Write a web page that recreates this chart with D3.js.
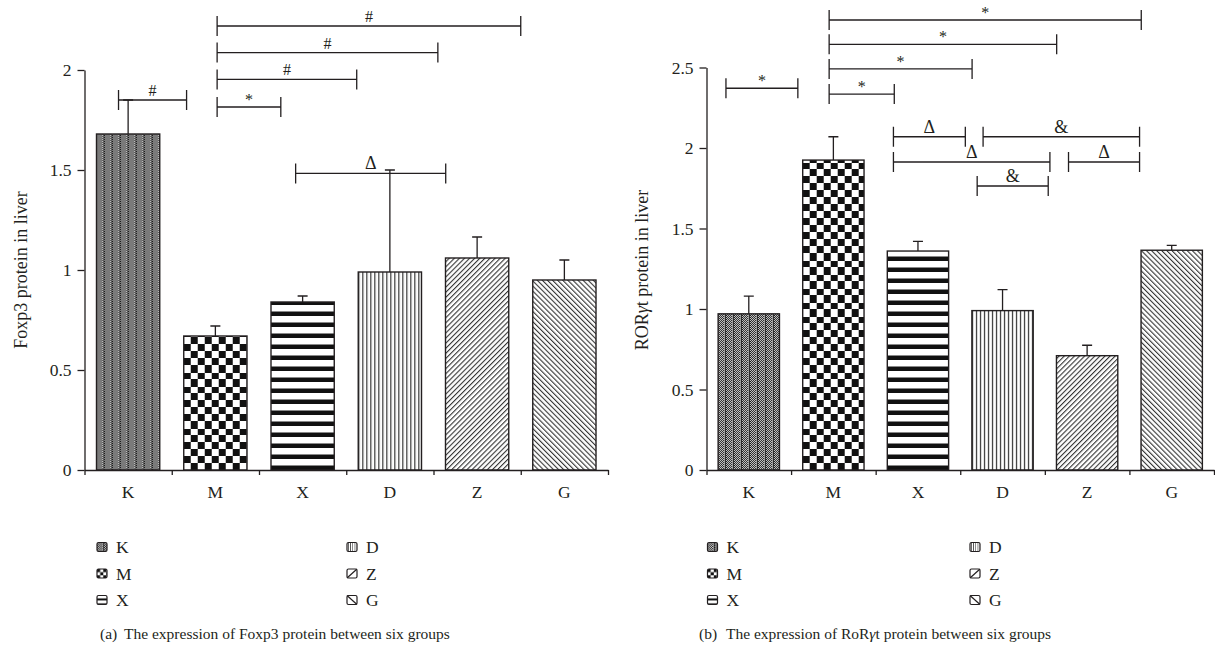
<!DOCTYPE html>
<html>
<head>
<meta charset="utf-8">
<script src="https://cdn.jsdelivr.net/npm/d3@7"></script>
<style>
body { margin: 0; background: #fff; }
#fig { opacity: 0.999; }
svg text { font-family: "Liberation Serif", "DejaVu Serif", serif; fill: #231f20; }
</style>
</head>
<body>
<svg id="fig" width="1215" height="653"></svg>
<script>
/*global d3 */
"use strict";

////////////////////////////////////////
// data
////////////////////////////////////////

var groups = ["K", "M", "X", "D", "Z", "G"],
    foxp3Mean = [1.68, 0.67, 0.84, 0.99, 1.06, 0.95],
    foxp3Err = [0.17, 0.05, 0.03, 0.51, 0.105, 0.10],
    foxp3Ticks = [0, 0.5, 1, 1.5, 2],
    rorMean = [0.97, 1.925, 1.36, 0.99, 0.71, 1.365],
    rorErr = [0.11, 0.145, 0.06, 0.13, 0.065, 0.03],
    rorTicks = [0, 0.5, 1, 1.5, 2, 2.5],
    // significance brackets: [label, from, to, level] (from/to in group units)
    foxp3Sig = [["#", 0.39, 1.17, 1.85],
                ["*", 1.52, 2.25, 1.815],
                ["#", 1.52, 3.12, 1.953],
                ["#", 1.52, 4.05, 2.087],
                ["#", 1.52, 5.0, 2.22],
                ["\u0394", 2.42, 4.14, 1.483]],
    rorSig = [["*", 0.23, 1.08, 2.371],
              ["*", 1.45, 2.22, 2.335],
              ["*", 1.45, 3.14, 2.491],
              ["*", 1.45, 4.14, 2.644],
              ["*", 1.45, 5.14, 2.795],
              ["\u0394", 2.21, 3.06, 2.07],
              ["&", 3.27, 5.12, 2.07],
              ["\u0394", 2.21, 4.06, 1.913],
              ["\u0394", 4.28, 5.12, 1.913],
              ["&", 3.20, 4.04, 1.764]];

var ink = "#231f20",
    fig = d3.select("#fig"),
    defs = fig.append("defs");


////////////////////////////////////////
// hatch patterns
////////////////////////////////////////

var fillers = {
    K: function (p) {
        p.attr("width", 8).attr("height", 2);
        p.append("rect").attr("width", 8).attr("height", 2).attr("fill", "#1c1c1c");
        [[0, 0], [2, 0], [4, 0], [1, 1], [3, 1], [5, 1]].forEach(function (d) {
            p.append("rect").attr("x", d[0]).attr("y", d[1])
                .attr("width", 1).attr("height", 1).attr("fill", "#d8d8d8"); });
        p.append("rect").attr("x", 6).attr("width", 1).attr("height", 2)
            .attr("fill", "#a0a0a0");
    },
    M: function (p) {
        p.attr("width", 14).attr("height", 14);
        p.append("rect").attr("width", 14).attr("height", 14).attr("fill", "#fff");
        p.append("rect").attr("width", 7).attr("height", 7).attr("fill", "#111");
        p.append("rect").attr("x", 7).attr("y", 7).attr("width", 7).attr("height", 7)
            .attr("fill", "#111");
    },
    X: function (p) {
        p.attr("width", 11).attr("height", 11);
        p.append("rect").attr("width", 11).attr("height", 11).attr("fill", "#fff");
        p.append("rect").attr("y", 6.5).attr("width", 11).attr("height", 4.5)
            .attr("fill", "#111");
    },
    D: function (p) {
        p.attr("width", 4).attr("height", 4);
        p.append("rect").attr("width", 4).attr("height", 4).attr("fill", "#fff");
        p.append("rect").attr("width", 1.2).attr("height", 4).attr("fill", "#333");
    },
    Z: function (p) {
        p.attr("width", 3.6).attr("height", 4);
        p.append("rect").attr("width", 3.6).attr("height", 4).attr("fill", "#fff");
        p.append("rect").attr("width", 1.1).attr("height", 4).attr("fill", "#333");
    },
    G: function (p) {
        fillers.Z(p);
    }
},

addPattern = function (id, kind, ox, oy, s) {
    var rot = kind === "Z" ? 45 : (kind === "G" ? -45 : 0),
        p = defs.append("pattern").attr("id", id)
            .attr("patternUnits", "userSpaceOnUse")
            .attr("patternTransform", "translate(" + ox + "," + oy + ") rotate(" +
                  rot + ") scale(" + s + ")");
    fillers[kind](p);
    return "url(#" + id + ")";
},


////////////////////////////////////////
// one panel
////////////////////////////////////////

drawPanel = function (cfg) {
    var g = fig.append("g"),
        base = 470,
        x = d3.scaleBand().domain(groups).range([cfg.x0, cfg.x1])
            .paddingInner(0.275).paddingOuter(0.1375),
        xu = d3.scaleLinear().domain([0, groups.length]).range([cfg.x0, cfg.x1]),
        y = d3.scaleLinear().domain([0, d3.max(cfg.ticks)]).range([base, cfg.yTop]),
        rows = groups.map(function (k, i) {
            return {k: k, v: cfg.mean[i], e: cfg.err[i]}; }),
        yAxis, xAxis, title, cap;

    // bars
    g.selectAll("rect.bar").data(rows).enter().append("rect")
        .attr("class", "bar")
        .attr("x", function (d) { return x(d.k); })
        .attr("y", function (d) { return y(d.v); })
        .attr("width", x.bandwidth())
        .attr("height", function (d) { return base - y(d.v); })
        .attr("fill", function (d) {
            return addPattern(cfg.id + d.k, d.k, x(d.k), base, 1); })
        .attr("stroke", ink).attr("stroke-width", 1.4);

    // error bars
    g.selectAll("path.err").data(rows).enter().append("path")
        .attr("class", "err")
        .attr("fill", "none").attr("stroke", ink).attr("stroke-width", 1.3)
        .attr("d", function (d) {
            var cx = x(d.k) + x.bandwidth() / 2, top = y(d.v + d.e);
            return "M" + cx + "," + y(d.v) + "V" + top +
                "M" + (cx - 5) + "," + top + "H" + (cx + 5); });

    // axes
    yAxis = g.append("g")
        .call(d3.axisLeft(y).tickValues(cfg.ticks).tickSize(7).tickSizeOuter(0)
              .tickPadding(6).tickFormat(function (d) { return String(d); }));
    yAxis.attr("font-size", null).attr("font-family", null)
        .attr("transform", "translate(" + cfg.x0 + ",0)");
    yAxis.selectAll("text").style("font-size", "17.5px").attr("fill", ink);
    yAxis.selectAll("path,line").attr("stroke", ink).attr("stroke-width", 1.3);

    xAxis = g.append("g").attr("transform", "translate(0," + base + ")")
        .call(d3.axisBottom(xu).tickValues(d3.range(0, groups.length + 1))
              .tickSize(5).tickSizeOuter(0).tickFormat(""));
    xAxis.selectAll("path,line").attr("stroke", ink).attr("stroke-width", 1.3);

    g.selectAll("text.cat").data(groups).enter().append("text")
        .attr("class", "cat")
        .attr("x", function (d) { return x(d) + x.bandwidth() / 2; })
        .attr("y", base + 28)
        .attr("text-anchor", "middle")
        .style("font-size", "17.5px")
        .text(function (d) { return d; });

    // axis title
    title = g.append("text")
        .attr("transform", "translate(" + cfg.titleX + ",270) rotate(-90)")
        .attr("text-anchor", "middle").style("font-size", "18px");
    cfg.title.forEach(function (t) {
        title.append("tspan").style("font-style", t[1] ? "italic" : null).text(t[0]); });

    // significance brackets
    g.selectAll("path.sig").data(cfg.sig).enter().append("path")
        .attr("class", "sig")
        .attr("fill", "none").attr("stroke", ink).attr("stroke-width", 1.3)
        .attr("d", function (d) {
            var a = xu(d[1]), b = xu(d[2]), yy = y(d[3]);
            return "M" + a + "," + (yy - 10) + "V" + (yy + 10) +
                "M" + a + "," + yy + "H" + b +
                "M" + b + "," + (yy - 10) + "V" + (yy + 10); });
    g.selectAll("text.sig").data(cfg.sig).enter().append("text")
        .attr("class", "sig")
        .attr("x", function (d) { return (xu(d[1]) + xu(d[2])) / 2; })
        .attr("y", function (d) { return y(d[3]) - (d[0] === "*" ? 2 : 4); })
        .attr("text-anchor", "middle")
        .style("font-size", function (d) {
            return (d[0] === "#" || d[0] === "*") ? "16px" : "18px"; })
        .text(function (d) { return d[0]; });

    // legend, two columns of three
    groups.forEach(function (k, i) {
        var col = i < 3 ? 0 : 1,
            sx = cfg.legX[col],
            ly = 547 + (i % 3) * 26.5,
            sy = ly - 4.5;
        g.append("rect")
            .attr("x", sx).attr("y", sy).attr("width", 10).attr("height", 9)
            .attr("rx", 1.5)
            .attr("fill", (k === "Z" || k === "G") ? "#fff" :
                  (k === "D" ? addPattern(cfg.id + "L" + k, "D", sx + 1, sy, 0.55) :
                   addPattern(cfg.id + "L" + k, k, sx, sy, k === "K" ? 0.9 : 0.45)))
            .attr("stroke", ink).attr("stroke-width", 1.2);
        if(k === "Z") {
            g.append("path").attr("d", "M" + sx + "," + (sy + 9) + "L" + (sx + 10) + "," + sy)
                .attr("stroke", ink).attr("stroke-width", 1.2); }
        if(k === "G") {
            g.append("path").attr("d", "M" + sx + "," + sy + "L" + (sx + 10) + "," + (sy + 9))
                .attr("stroke", ink).attr("stroke-width", 1.2); }
        g.append("text").attr("x", sx + 19).attr("y", ly + 6)
            .style("font-size", "17.5px").text(k);
    });

    // caption
    g.append("text").attr("x", cfg.capX[0]).attr("y", 639)
        .style("font-size", "15.5px").text(cfg.tag);
    cap = g.append("text").attr("x", cfg.capX[1]).attr("y", 639)
        .style("font-size", "15.5px");
    cfg.caption.forEach(function (t) {
        cap.append("tspan").style("font-style", t[1] ? "italic" : null).text(t[0]); });
};


drawPanel({id: "a", x0: 84.5, x1: 608, yTop: 70, titleX: 27,
           legX: [97, 347], capX: [100, 124],
           mean: foxp3Mean, err: foxp3Err, ticks: foxp3Ticks, sig: foxp3Sig,
           title: [["Foxp3 protein in liver", false]],
           tag: "(a)",
           caption: [["The expression of Foxp3 protein between six groups", false]]});

drawPanel({id: "b", x0: 706.5, x1: 1214, yTop: 67.5, titleX: 648,
           legX: [707.5, 970], capX: [699, 726],
           mean: rorMean, err: rorErr, ticks: rorTicks, sig: rorSig,
           title: [["ROR", false], ["\u03b3", true], ["t protein in liver", false]],
           tag: "(b)",
           caption: [["The expression of RoR", false], ["\u03b3", true],
                     ["t protein between six groups", false]]});
</script>
</body>
</html>
